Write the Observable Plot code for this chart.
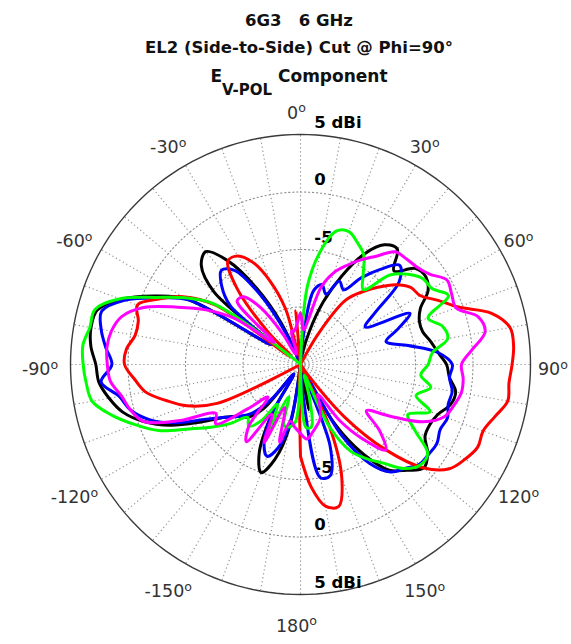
<!DOCTYPE html>
<html><head><meta charset="utf-8">
<script src="https://cdn.jsdelivr.net/npm/d3@7"></script>
<script src="https://cdn.jsdelivr.net/npm/@observablehq/plot@0.6"></script>
<style>
body{margin:0;background:#fff;font-family:"DejaVu Sans",sans-serif;}
#title{width:571px;height:92px;position:relative;font-weight:bold;color:#111;}
#title div{position:absolute;left:27px;right:0;text-align:center;white-space:pre;line-height:20px;}
#chart svg{display:block;}
</style></head><body>
<div id="title">
  <div style="top:11px;font-size:16.5px">6G3   6 GHz</div>
  <div style="top:38px;font-size:16.5px">EL2 (Side-to-Side) Cut @ Phi=90°</div>
  <div style="top:66px;font-size:17px">E<span style="position:relative;top:13px;font-size:15px">V-POL</span> Component</div>
</div>
<div id="chart"></div>
<script>
// angle sampling grid (degrees, 0 at top, clockwise)
const angles = d3.range(-180, 181, 5);

// gain values in dBi at each angle (values below -15 dBi sit at the centre)
const black = [-16,-16,-9.5,-6.5,-5,-6.5,-10,-14,-10,-8.5,-8,-7,-5,-2.5,-0.5,1,1.9,2.6,2.8,3.3,3.5,3.3,1.6,-0.9,-3.6,-12,-5.2,-2.8,-2.2,-4,-7.3,-11,-16,-16,-16,-16,-16,-16,-14,-12,-9.2,-6.5,-3.9,-2.3,-1.9,-3.5,-2,-1.7,-2.2,-3.5,-4,-4,-3.5,-3,-2.3,-2,-1.3,-1.5,-2.3,-2.6,-2.5,-1.5,-1,-2,-3,-5.5,-9,-15,-16,-13,-11,-16,-16];
const blue = [-16,-16,-10,-7.5,-6.5,-7.5,-10,-14,-11,-9,-8,-7,-5.5,-3,-1,0.3,1,2.4,1.4,2,2.6,2.9,1.3,-1.3,-3.8,-12,-7,-5.3,-4.3,-5,-8,-12,-16,-16,-16,-16,-16,-13,-8.5,-7.8,-8.5,-7,-7.5,-5.8,-4.2,-2.8,-3.8,-7,-8.5,-4.5,-6,-7.3,-5.5,-3,-1.8,-2,-1.6,-1.7,-1.4,-1.6,-1.3,-1.4,-1.5,-2.2,-2.8,-4.5,-8,-14,-7.5,-5,-5,-12,-16];
const red = [-7,-14,-16,-16,-16,-16,-16,-16,-16,-16,-16,-16,-16,-7,-4.5,-2.9,-1.3,-0.5,0.3,0.2,-0.4,-0.4,0.1,-1.5,-3.2,-6,-14,-11,-6.5,-4,-4.1,-5.2,-7.3,-10,-14,-10.3,-16,-16,-16,-16,-16,-16,-12,-8.2,-6.8,-5.5,-4.2,-3.3,-3,-1.8,-0.4,2.2,3.5,3.6,3.4,3.2,3.3,2.5,1.9,2,1.5,0.8,-1,-4.5,-9,-14,-16,-9,-4.5,-2.2,-2.5,-4.3,-7];
const green = [-16,-10,-9.5,-9.5,-12,-8,-11,-9,-8,-8.5,-7,-5.5,-3.8,-1.4,0.3,2,3.4,3.7,3.9,4,3.6,3.5,1.7,-1.2,-3.4,-5.8,-14,-16,-16,-16,-16,-16,-16,-16,-16,-16,-16,-8.2,-5,-3,-2.7,-3.3,-4,-5.5,-6.5,-4,-2.8,-2,-1.8,-0.8,-3.2,-2.2,-2,-3.5,-3.9,-4.5,-3.5,-4.6,-3,-4.7,-3.5,-1.5,-1.4,-2.2,-3.8,-5,-6.3,-9,-14,-12,-9.5,-9.5,-16];
const magenta = [-9,-9.5,-10,-8,-11,-7.5,-10,-6.8,-8,-11,-9,-6,-6.5,-3.5,-0.5,0.3,0.8,1.6,1.8,1.9,1.7,1.1,-0.5,-3.2,-5.5,-8,-12,-7.2,-7.3,-9,-12,-14,-14,-12,-12,-11.5,-10.5,-12,-11,-8,-6.5,-5.5,-4.5,-3.5,-2.2,-2,-1.8,-1.3,-0.3,-0.5,-0.6,1,1.3,0,-1,-0.8,-0.8,-1.2,-1.7,-3.2,-6,-8,-6,-4.5,-6.5,-9,-12,-11,-10,-9.5,-9,-8.5,-9];

const seriesNames = ["black", "blue", "red", "green", "magenta"];
const seriesColors = ["#000000", "#0000ff", "#ff0000", "#00ff00", "#ff00ff"];
const seriesValues = [black, blue, red, green, magenta];

// axis ticks
const dbMin = -15, dbMax = 5;
const ringTicks = [-10, -5, 0];
const radialTicks = [5, 0, -5];
const radialTickLabels = ["5 dBi", "0", "-5"];
const degTicks = [0, 30, 60, 90, 120, 150, 180, -150, -120, -90, -60, -30];
const degTickLabels = ["0", "30", "60", "90", "120", "150", "180", "-150", "-120", "-90", "-60", "-30"];
const spokeAngles = d3.range(0, 360, 10);

const toR = db => Math.max(0, db - dbMin);
const Rmax = dbMax - dbMin;
const px = (a, r) => r * Math.sin(a * Math.PI / 180);
const py = (a, r) => r * Math.cos(a * Math.PI / 180);

const circle = lvl => d3.range(0, 361, 2).map(a => ({lvl, a}));
const ringPts = ringTicks.flatMap(circle);
const outerPts = circle(dbMax);

const lineMarks = seriesNames.map((name, k) => Plot.line(
  angles.map((a, i) => ({a, db: seriesValues[k][i]})),
  {x: d => px(d.a, toR(d.db)), y: d => py(d.a, toR(d.db)),
   stroke: seriesColors[k], strokeWidth: 3, curve: "catmull-rom", strokeLinejoin: "round"}
));

const topLabels = radialTicks.map((v, i) => ({v, t: radialTickLabels[i], side: 1}));
const botLabels = radialTicks.map((v, i) => ({v, t: radialTickLabels[i], side: -1}));

const chart = Plot.plot({
  width: 571, height: 552,
  marginLeft: 70, marginRight: 41, marginTop: 42, marginBottom: 50,
  x: {domain: [-Rmax, Rmax], axis: null},
  y: {domain: [-Rmax, Rmax], axis: null},
  style: {fontFamily: "DejaVu Sans", background: "white", overflow: "visible"},
  marks: [
    Plot.line(ringPts, {x: d => px(d.a, toR(d.lvl)), y: d => py(d.a, toR(d.lvl)), z: "lvl",
      stroke: "#8c8c8c", strokeWidth: 1.1, strokeDasharray: "1.2,2.8"}),
    Plot.link(spokeAngles, {x1: () => 0, y1: () => 0, x2: d => px(d, Rmax), y2: d => py(d, Rmax),
      stroke: "#8c8c8c", strokeWidth: 1.1, strokeDasharray: "1.2,2.8"}),
    Plot.line(outerPts, {x: d => px(d.a, Rmax), y: d => py(d.a, Rmax), stroke: "#3a3a3a", strokeWidth: 1.4}),
    Plot.text(degTicks.map((a, i) => ({a, t: degTickLabels[i]})), {
      x: d => px(d.a, Rmax * 1.115), y: d => py(d.a, Rmax * 1.115), text: "t", dx: -4, dy: 5,
      fontSize: 17.5, fill: "#333333", textAnchor: "middle", className: "deglab"}),
    Plot.text([...topLabels, ...botLabels], {
      x: () => 1.2, y: d => d.side * toR(d.v) + 1.05, text: "t",
      textAnchor: "start", fontSize: 16.5, fontWeight: "bold", fill: "#000"}),
    ...lineMarks
  ]
});
document.getElementById("chart").appendChild(chart);

// superscript "o" degree marks on the angle labels
d3.select(chart).selectAll(".deglab text").each(function() {
  const t = this.textContent;
  this.textContent = "";
  d3.select(this).append("tspan").text(t);
  d3.select(this).append("tspan").attr("dy", "-0.5em").attr("font-size", "0.72em").text("o");
});
</script>
</body></html>
